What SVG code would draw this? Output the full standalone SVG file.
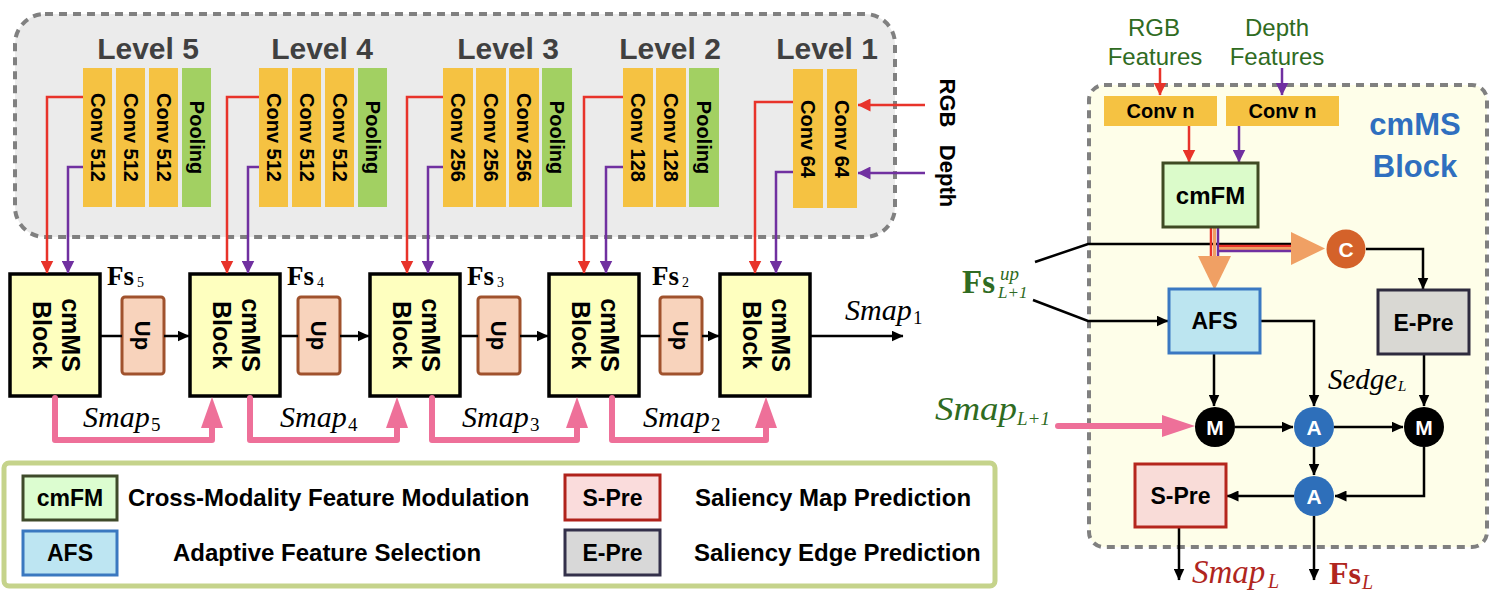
<svg xmlns="http://www.w3.org/2000/svg" width="1496" height="606" viewBox="0 0 1496 606">
<defs>
<style>
.sans{font-family:"Liberation Sans",Arial,sans-serif;font-weight:bold}
.lvl{font-size:30px;fill:#404040;text-anchor:middle}
.conv{fill:#f5c242}
.pool{fill:#a2d062}
.ct{font-size:20px;fill:#000;text-anchor:middle}
.red{stroke:#e8332a;stroke-width:2.5;fill:none}
.pur{stroke:#7030a0;stroke-width:2.5;fill:none}
.blk{stroke:#000;stroke-width:2.5;fill:none}
.pink{stroke:#ee7099;stroke-width:6;fill:none;stroke-linejoin:round;stroke-linecap:round}
.pinkh{fill:#ee7099}
.cm{fill:#feffbf;stroke:#000;stroke-width:3.5}
.up{fill:#f8d3bc;stroke:#a0522d;stroke-width:3}
.bt{font-size:25px;fill:#000;text-anchor:middle}
.ser{font-family:"Liberation Serif","Times New Roman",serif}
.it{font-style:italic}
.bf{font-weight:bold}
.lt{font-size:24px;fill:#000}
.dash{stroke:#808080;stroke-width:4;stroke-dasharray:8 6}
.circ{fill:#fff;font-size:21px;text-anchor:middle}
.grn{fill:#2f6b22}
.dred{fill:#b0261e}
</style>
<marker id="ar" markerUnits="userSpaceOnUse" markerWidth="13" markerHeight="13" viewBox="0 0 13 13" refX="12.5" refY="6.5" orient="auto"><path d="M0,0 L13,6.5 L0,13 z" fill="#e8332a"/></marker>
<marker id="ap" markerUnits="userSpaceOnUse" markerWidth="13" markerHeight="13" viewBox="0 0 13 13" refX="12.5" refY="6.5" orient="auto"><path d="M0,0 L13,6.5 L0,13 z" fill="#7030a0"/></marker>
<marker id="ak" markerUnits="userSpaceOnUse" markerWidth="12" markerHeight="11" viewBox="0 0 12 11" refX="11.5" refY="5.5" orient="auto"><path d="M0,0 L12,5.5 L0,11 z" fill="#000"/></marker>
</defs>

<!-- Encoder backbone -->
<g id="backbone">
<rect x="15" y="14" width="880" height="223" rx="30" fill="#ebebeb" class="dash"/>
<g class="sans lvl">
<text x="148" y="59">Level 5</text>
<text x="322" y="59">Level 4</text>
<text x="508" y="59">Level 3</text>
<text x="670" y="59">Level 2</text>
<text x="827" y="59">Level 1</text>
</g>
</g>

<g id="level5">
<rect class="conv" x="83" y="68" width="29" height="139"/>
<rect class="conv" x="116" y="68" width="29" height="139"/>
<rect class="conv" x="149" y="68" width="29" height="139"/>
<rect class="pool" x="182" y="68" width="29" height="139"/>
<g class="sans ct">
<text transform="translate(97.5,137.5) rotate(90)" y="7">Conv 512</text>
<text transform="translate(130.5,137.5) rotate(90)" y="7">Conv 512</text>
<text transform="translate(163.5,137.5) rotate(90)" y="7">Conv 512</text>
<text transform="translate(196.5,137.5) rotate(90)" y="7">Pooling</text>
</g>
</g>
<g id="level4">
<rect class="conv" x="259" y="68" width="29" height="139"/>
<rect class="conv" x="292" y="68" width="29" height="139"/>
<rect class="conv" x="325" y="68" width="29" height="139"/>
<rect class="pool" x="358" y="68" width="29" height="139"/>
<g class="sans ct">
<text transform="translate(273.5,137.5) rotate(90)" y="7">Conv 512</text>
<text transform="translate(306.5,137.5) rotate(90)" y="7">Conv 512</text>
<text transform="translate(339.5,137.5) rotate(90)" y="7">Conv 512</text>
<text transform="translate(372.5,137.5) rotate(90)" y="7">Pooling</text>
</g>
</g>
<g id="level3">
<rect class="conv" x="443" y="68" width="30" height="139"/>
<rect class="conv" x="476" y="68" width="30" height="139"/>
<rect class="conv" x="509" y="68" width="30" height="139"/>
<rect class="pool" x="542" y="68" width="30" height="139"/>
<g class="sans ct">
<text transform="translate(458,137.5) rotate(90)" y="7">Conv 256</text>
<text transform="translate(491,137.5) rotate(90)" y="7">Conv 256</text>
<text transform="translate(524,137.5) rotate(90)" y="7">Conv 256</text>
<text transform="translate(557,137.5) rotate(90)" y="7">Pooling</text>
</g>
</g>
<g id="level2">
<rect class="conv" x="623" y="68" width="30" height="139"/>
<rect class="conv" x="656" y="68" width="30" height="139"/>
<rect class="pool" x="689" y="68" width="30" height="139"/>
<g class="sans ct">
<text transform="translate(638,137.5) rotate(90)" y="7">Conv 128</text>
<text transform="translate(671,137.5) rotate(90)" y="7">Conv 128</text>
<text transform="translate(704,137.5) rotate(90)" y="7">Pooling</text>
</g>
</g>
<g id="level1">
<rect class="conv" x="793" y="69" width="30" height="139"/>
<rect class="conv" x="827" y="69" width="30" height="139"/>
<g class="sans ct">
<text transform="translate(808,139) rotate(90)" y="7">Conv 64</text>
<text transform="translate(842,139) rotate(90)" y="7">Conv 64</text>
</g>
</g>
<g id="inputs" class="sans" font-size="22" fill="#000" text-anchor="middle">
<text transform="translate(940,103) rotate(90)">RGB</text>
<text transform="translate(940,176) rotate(90)">Depth</text>
</g>

<!-- Decoder blocks -->
<g id="cmms5"><rect class="cm" x="10" y="274" width="90" height="122"/>
<g class="sans bt" transform="translate(55,335) rotate(90)"><text y="-7">cmMS</text><text y="22">Block</text></g></g>
<g id="cmms4"><rect class="cm" x="190" y="274" width="90" height="122"/>
<g class="sans bt" transform="translate(235,335) rotate(90)"><text y="-7">cmMS</text><text y="22">Block</text></g></g>
<g id="cmms3"><rect class="cm" x="370" y="274" width="90" height="122"/>
<g class="sans bt" transform="translate(415,335) rotate(90)"><text y="-7">cmMS</text><text y="22">Block</text></g></g>
<g id="cmms2"><rect class="cm" x="549" y="274" width="90" height="122"/>
<g class="sans bt" transform="translate(594,335) rotate(90)"><text y="-7">cmMS</text><text y="22">Block</text></g></g>
<g id="cmms1"><rect class="cm" x="720" y="274" width="90" height="122"/>
<g class="sans bt" transform="translate(765,335) rotate(90)"><text y="-7">cmMS</text><text y="22">Block</text></g></g>

<g id="up5"><rect class="up" x="122" y="297" width="42" height="77" rx="3"/><text class="sans" font-size="22" text-anchor="middle" transform="translate(143,335.5) rotate(90)" y="8">Up</text></g>
<g id="up4"><rect class="up" x="298" y="297" width="42" height="77" rx="3"/><text class="sans" font-size="22" text-anchor="middle" transform="translate(319,335.5) rotate(90)" y="8">Up</text></g>
<g id="up3"><rect class="up" x="478" y="297" width="42" height="77" rx="3"/><text class="sans" font-size="22" text-anchor="middle" transform="translate(499,335.5) rotate(90)" y="8">Up</text></g>
<g id="up2"><rect class="up" x="660" y="297" width="42" height="77" rx="3"/><text class="sans" font-size="22" text-anchor="middle" transform="translate(681,335.5) rotate(90)" y="8">Up</text></g>

<!-- cmMS block detail background -->
<g id="cmms-detail">
<rect x="1089" y="85" width="398" height="462" rx="15" fill="#fefee9" class="dash"/>
<g font-family="'Liberation Sans',Arial,sans-serif" font-weight="bold" fill="#2f6fbf" font-size="31" text-anchor="middle">
<text x="1415" y="135">cmMS</text>
<text x="1415" y="177">Block</text>
</g>
</g>

<!-- Connectors -->
<g id="connectors">
<path class="red" d="M83,97 H47 V273" marker-end="url(#ar)"/>
<path class="pur" d="M83,167 H68 V273" marker-end="url(#ap)"/>
<path class="red" d="M259,97 H227 V273" marker-end="url(#ar)"/>
<path class="pur" d="M259,167 H248 V273" marker-end="url(#ap)"/>
<path class="red" d="M443,97 H407 V273" marker-end="url(#ar)"/>
<path class="pur" d="M443,167 H428 V273" marker-end="url(#ap)"/>
<path class="red" d="M623,97 H584 V273" marker-end="url(#ar)"/>
<path class="pur" d="M623,167 H606 V273" marker-end="url(#ap)"/>
<path class="red" d="M793,102 H755 V273" marker-end="url(#ar)"/>
<path class="pur" d="M793,172 H776 V273" marker-end="url(#ap)"/>
<path class="red" d="M925,105 H858" marker-end="url(#ar)"/>
<path class="pur" d="M925,173 H858" marker-end="url(#ap)"/>

<path class="blk" d="M100,336 H122"/>
<path class="blk" d="M164,336 H189" marker-end="url(#ak)"/>
<path class="blk" d="M280,336 H298"/>
<path class="blk" d="M340,336 H369" marker-end="url(#ak)"/>
<path class="blk" d="M460,336 H478"/>
<path class="blk" d="M520,336 H548" marker-end="url(#ak)"/>
<path class="blk" d="M639,336 H660"/>
<path class="blk" d="M702,336 H719" marker-end="url(#ak)"/>
<path class="blk" d="M810,336 H903" marker-end="url(#ak)"/>

<path class="pink" d="M55,398 V440 H212 V428"/>
<polygon class="pinkh" points="201,428 223,428 212,397"/>
<path class="pink" d="M250,398 V440 H397 V428"/>
<polygon class="pinkh" points="386,428 408,428 397,397"/>
<path class="pink" d="M432,398 V440 H577 V428"/>
<polygon class="pinkh" points="566,428 588,428 577,397"/>
<path class="pink" d="M612,398 V440 H766 V428"/>
<polygon class="pinkh" points="755,428 777,428 766,397"/>

<path class="red" d="M1160,68 V95" marker-end="url(#ar)"/>
<path class="pur" d="M1282,68 V95" marker-end="url(#ap)"/>
<path class="red" d="M1189,126 V162" marker-end="url(#ar)"/>
<path class="pur" d="M1239,126 V162" marker-end="url(#ap)"/>
<path class="blk" d="M1035,262 L1088,244 H1293"/>
<path class="blk" d="M1033,300 L1088,321 H1168" marker-end="url(#ak)"/>
<path d="M1211,227 V258" stroke="#e8332a" stroke-width="2.5" fill="none"/>
<path d="M1214.5,227 V258" stroke="#f0a064" stroke-width="3" fill="none"/>
<path d="M1218,227 V258" stroke="#7030a0" stroke-width="2.5" fill="none"/>
<path d="M1219,246 H1293" stroke="#e8332a" stroke-width="2.5" fill="none"/>
<path d="M1219,248.5 H1293" stroke="#f0a064" stroke-width="3" fill="none"/>
<path d="M1218,251 H1293" stroke="#7030a0" stroke-width="2.5" fill="none"/>
<polygon points="1198,256 1231,256 1214.5,290" fill="#f0a064"/>
<polygon points="1291,232 1291,265 1325,248.5" fill="#f0a064"/>
<path class="blk" d="M1366,249 H1423 V289" marker-end="url(#ak)"/>
<path class="blk" d="M1260,321 H1314 V406" marker-end="url(#ak)"/>
<path class="blk" d="M1214,353 V406" marker-end="url(#ak)"/>
<path class="blk" d="M1424,354 V406" marker-end="url(#ak)"/>
<path class="blk" d="M1235,427 H1293" marker-end="url(#ak)"/>
<path class="blk" d="M1334,427 H1403" marker-end="url(#ak)"/>
<path class="blk" d="M1314,447 V475" marker-end="url(#ak)"/>
<path class="blk" d="M1424,447 V496 H1335" marker-end="url(#ak)"/>
<path class="blk" d="M1294,496 H1227" marker-end="url(#ak)"/>
<path class="blk" d="M1179,527 V580" marker-end="url(#ak)"/>
<path class="blk" d="M1314,516 V580" marker-end="url(#ak)"/>
<path class="pink" d="M1058,426 H1162" stroke-linecap="round"/>
<polygon class="pinkh" points="1162,415 1162,437 1195,426"/>
</g>

<!-- Labels on decoder -->
<g id="labels">
<text class="ser bf" font-size="27" x="107" y="285">Fs</text><text class="ser" font-size="14" x="137" y="287">5</text>
<text class="ser bf" font-size="27" x="287" y="285">Fs</text><text class="ser" font-size="14" x="317" y="287">4</text>
<text class="ser bf" font-size="27" x="467" y="285">Fs</text><text class="ser" font-size="14" x="497" y="287">3</text>
<text class="ser bf" font-size="27" x="652" y="285">Fs</text><text class="ser" font-size="14" x="682" y="287">2</text>
<text class="ser it" font-size="30" x="83" y="427">Smap</text><text class="ser" font-size="19" x="151" y="431">5</text>
<text class="ser it" font-size="30" x="280" y="427">Smap</text><text class="ser" font-size="19" x="348" y="431">4</text>
<text class="ser it" font-size="30" x="462" y="427">Smap</text><text class="ser" font-size="19" x="530" y="431">3</text>
<text class="ser it" font-size="30" x="643" y="427">Smap</text><text class="ser" font-size="19" x="711" y="431">2</text>
<text class="ser it" font-size="30" x="845" y="320">Smap</text><text class="ser" font-size="19" x="913" y="324">1</text>
</g>

<g id="feat-labels" font-family="'Liberation Sans',Arial,sans-serif" font-size="24" fill="#2f6b22" text-anchor="middle">
<text x="1154" y="36">RGB</text>
<text x="1155" y="65">Features</text>
<text x="1277" y="36">Depth</text>
<text x="1277" y="65">Features</text>
</g>
<g id="convn1"><rect class="conv" x="1104" y="96" width="113" height="30"/><text class="sans" font-size="20" text-anchor="middle" x="1160.5" y="118">Conv n</text></g>
<g id="convn2"><rect class="conv" x="1226" y="96" width="113" height="30"/><text class="sans" font-size="20" text-anchor="middle" x="1282.5" y="118">Conv n</text></g>
<g id="cmfm"><rect x="1163" y="163" width="95" height="64" fill="#dbfbca" stroke="#3f4a23" stroke-width="3"/><text class="sans" font-size="24" text-anchor="middle" x="1210.5" y="204">cmFM</text></g>
<g id="afs"><rect x="1169" y="289" width="91" height="64" fill="#bce5f0" stroke="#3a78c2" stroke-width="3"/><text class="sans" font-size="23" text-anchor="middle" x="1214.5" y="329">AFS</text></g>
<g id="epre"><rect x="1378" y="290" width="91" height="64" fill="#d9d8d3" stroke="#2e2b3e" stroke-width="3"/><text class="sans" font-size="23" text-anchor="middle" x="1423.5" y="331">E-Pre</text></g>
<g id="spre"><rect x="1135" y="464" width="91" height="63" fill="#f9dcd8" stroke="#b5261d" stroke-width="3"/><text class="sans" font-size="23" text-anchor="middle" x="1180.5" y="504">S-Pre</text></g>
<g id="c-node"><circle cx="1346" cy="249" r="19.5" fill="#d4622a"/><text class="sans circ" x="1346" y="257">C</text></g>
<g id="m1-node"><circle cx="1215" cy="427" r="20" fill="#000"/><text class="sans circ" x="1215" y="435">M</text></g>
<g id="a1-node"><circle cx="1314" cy="427" r="20" fill="#2e6fba"/><text class="sans circ" x="1314" y="435">A</text></g>
<g id="m2-node"><circle cx="1424" cy="427" r="20" fill="#000"/><text class="sans circ" x="1424" y="435">M</text></g>
<g id="a2-node"><circle cx="1314" cy="496" r="20" fill="#2e6fba"/><text class="sans circ" x="1314" y="504">A</text></g>

<g id="detail-labels">
<text class="ser bf grn" font-size="33" x="962" y="293">Fs</text>
<text class="ser it grn" font-size="19" x="1000" y="280">up</text>
<text class="ser it grn" font-size="17" x="998" y="298">L+1</text>
<text class="ser it grn" font-size="34" x="935" y="420" textLength="82" lengthAdjust="spacingAndGlyphs">Smap</text>
<text class="ser it grn" font-size="19" x="1017" y="425">L+1</text>
<text class="ser it" font-size="29" x="1328" y="389">Sedge</text>
<text class="ser it" font-size="15" x="1398" y="391">L</text>
<text class="ser it dred" font-size="33" x="1192" y="583">Smap</text>
<text class="ser it dred" font-size="20" x="1268" y="588">L</text>
<text class="ser bf dred" font-size="32" x="1329" y="584">Fs</text>
<text class="ser it dred" font-size="20" x="1362" y="589">L</text>
</g>

<!-- Legend -->
<g id="legend">
<rect x="4" y="463" width="991" height="123" rx="5" fill="#fff" stroke="#c5d38b" stroke-width="5"/>
<rect x="23" y="476" width="94" height="44" fill="#dcfdd0" stroke="#3e4a2a" stroke-width="3"/>
<text class="sans" font-size="23" text-anchor="middle" x="70" y="506">cmFM</text>
<rect x="23" y="531" width="94" height="44" fill="#bde5f2" stroke="#3a78c0" stroke-width="3"/>
<text class="sans" font-size="23" text-anchor="middle" x="70" y="561">AFS</text>
<rect x="565" y="475" width="95" height="45" fill="#fadcdc" stroke="#b0221b" stroke-width="3"/>
<text class="sans" font-size="23" text-anchor="middle" x="612.5" y="506">S-Pre</text>
<rect x="565" y="530" width="95" height="45" fill="#d8d8d8" stroke="#33304a" stroke-width="3"/>
<text class="sans" font-size="23" text-anchor="middle" x="612.5" y="561">E-Pre</text>
<text class="sans lt" x="128" y="506">Cross-Modality Feature Modulation</text>
<text class="sans lt" x="173" y="561">Adaptive Feature Selection</text>
<text class="sans lt" x="695" y="506">Saliency Map Prediction</text>
<text class="sans lt" x="694" y="561">Saliency Edge Prediction</text>
</g>
</svg>
